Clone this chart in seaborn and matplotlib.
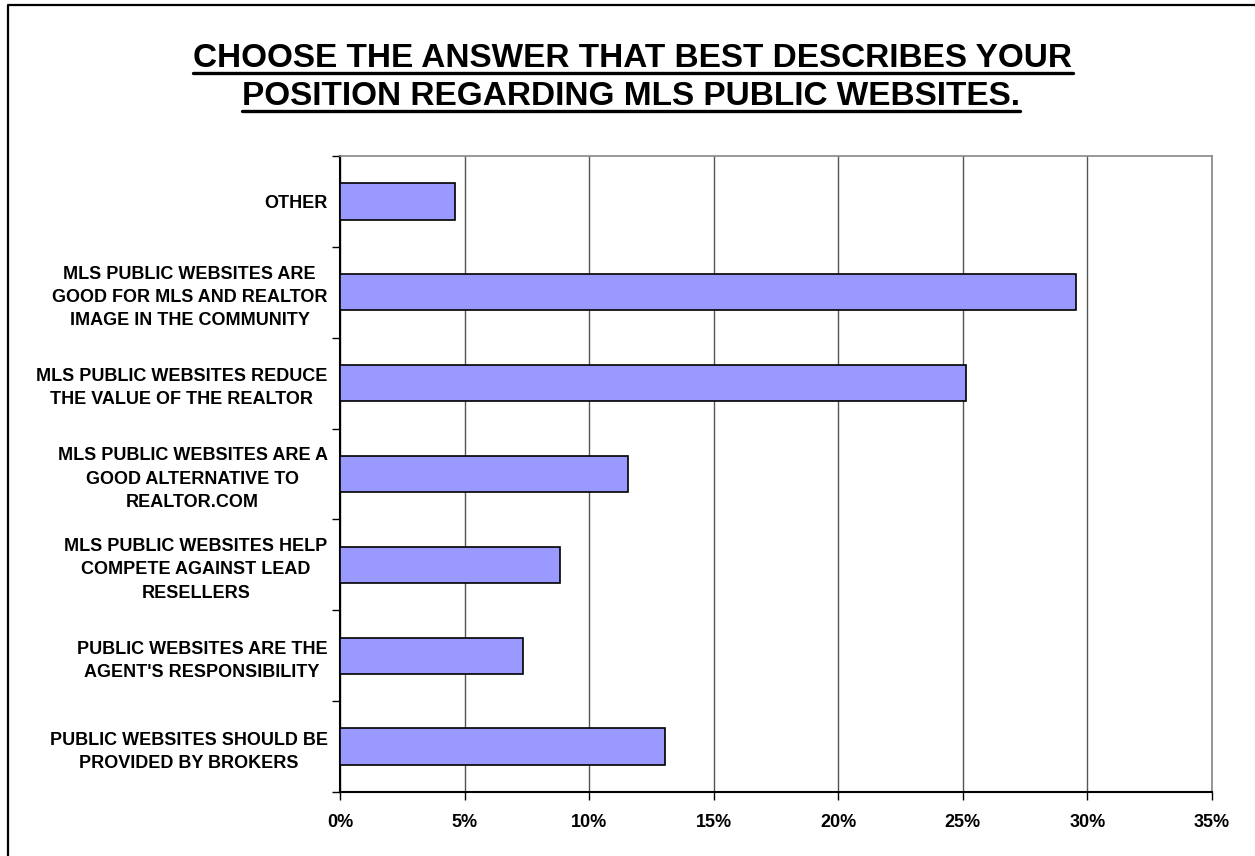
import matplotlib
matplotlib.use("Agg")
import matplotlib.pyplot as plt
import seaborn as sns
import pandas as pd
from matplotlib.lines import Line2D
from matplotlib.ticker import FuncFormatter, MultipleLocator

categories = [
    "OTHER",
    "MLS PUBLIC WEBSITES ARE\nGOOD FOR MLS AND REALTOR\nIMAGE IN THE COMMUNITY",
    "MLS PUBLIC WEBSITES REDUCE\nTHE VALUE OF THE REALTOR",
    "MLS PUBLIC WEBSITES ARE A\nGOOD ALTERNATIVE TO\nREALTOR.COM",
    "MLS PUBLIC WEBSITES HELP\nCOMPETE AGAINST LEAD\nRESELLERS",
    "PUBLIC WEBSITES ARE THE\nAGENT'S RESPONSIBILITY",
    "PUBLIC WEBSITES SHOULD BE\nPROVIDED BY BROKERS",
]
values = [4.6, 29.55, 25.13, 11.56, 8.82, 7.33, 13.03]
title_lines = ["CHOOSE THE ANSWER THAT BEST DESCRIBES YOUR",
               "POSITION REGARDING MLS PUBLIC WEBSITES."]

sns.set_style("white")
plt.rcParams['font.family'] = ['Liberation Sans', 'DejaVu Sans']
plt.rcParams['text.color'] = 'black'
plt.rcParams['xtick.color'] = 'black'
plt.rcParams['ytick.color'] = 'black'
plt.rcParams['xtick.labelcolor'] = 'black'
plt.rcParams['ytick.labelcolor'] = 'black'

W, H = 1255, 856
fig = plt.figure(figsize=(W / 100, H / 100), dpi=100)
ax = fig.add_axes([340 / W, 1 - 792 / H, (1212 - 340) / W, (792 - 156) / H])

df = pd.DataFrame({"cat": categories, "val": values})
sns.barplot(data=df, x="val", y="cat", orient="h", color="#9999FF",
            saturation=1, width=0.4, edgecolor="black", linewidth=1.2, ax=ax, zorder=3)

ax.set_xlim(0, 35)
ax.set_ylim(len(categories) - 0.5, -0.5)
ax.xaxis.set_major_locator(MultipleLocator(5))
ax.xaxis.set_major_formatter(FuncFormatter(lambda v, p: f"{int(round(v))}%"))
ax.grid(axis="x", color="#555555", linewidth=1, zorder=0)
ax.grid(axis="y", visible=False)
ax.set_axisbelow(True)
ax.set_xlabel("")
ax.set_ylabel("")

for s in ["left", "bottom"]:
    ax.spines[s].set_color("black")
    ax.spines[s].set_linewidth(1.5)
for s in ["top", "right"]:
    ax.spines[s].set_color("#888888")
    ax.spines[s].set_linewidth(1.2)

ax.tick_params(axis="x", which="major", direction="out", length=6, width=1,
               color="black", labelsize=13, pad=10, bottom=True, labelcolor="black")
ax.tick_params(axis="y", which="major", length=0, pad=9, labelsize=13, labelcolor="black")
ax.set_yticks(range(len(categories)), minor=False)
ax.set_yticks([i - 0.5 for i in range(len(categories) + 1)], minor=True)
ax.tick_params(axis="y", which="minor", direction="out", length=6, width=1,
               color="black", left=True)
for lab in ax.get_xticklabels():
    lab.set_fontweight("bold")
for lab in ax.get_yticklabels():
    lab.set_fontweight("bold")
    lab.set_multialignment("center")
    lab.set_linespacing(1.48)

t1 = fig.text(633 / W, 1 - 67 / H, title_lines[0], ha="center", va="baseline",
              fontsize=24, fontweight="bold", color="black")
t2 = fig.text(631 / W, 1 - 105 / H, title_lines[1], ha="center", va="baseline",
              fontsize=24, fontweight="bold", color="black")

fig.canvas.draw()
r = fig.canvas.get_renderer()
for t, uy in [(t1, 73), (t2, 111)]:
    bb = t.get_window_extent(r)
    fig.add_artist(Line2D([bb.x0 / W, bb.x1 / W], [1 - uy / H, 1 - uy / H],
                          transform=fig.transFigure, color="black", linewidth=2.4))

# figure border (top and left visible)
fig.add_artist(Line2D([7.5 / W, 7.5 / W, 1.0], [0.0, 1 - 4.5 / H, 1 - 4.5 / H],
                      transform=fig.transFigure, color="black", linewidth=1.6))

fig.savefig("out.png", dpi=100)
